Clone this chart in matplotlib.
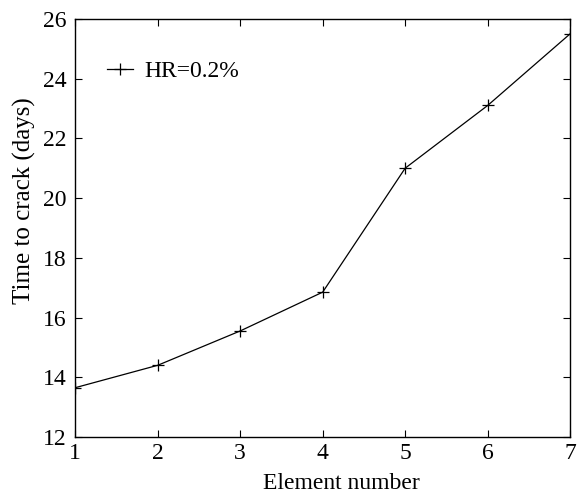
import matplotlib.pyplot as plt
import numpy as np

plt.rcParams['font.family'] = ['Liberation Serif', 'DejaVu Serif']
plt.rcParams['mathtext.fontset'] = 'stix'

# data
element = [1, 2, 3, 4, 5, 6, 7]
time_to_crack = [13.65, 14.4, 15.55, 16.85, 21.0, 23.1, 25.5]

fig = plt.figure(figsize=(5.83, 4.96), dpi=100)
ax = fig.add_axes([0.129, 0.119, 0.849, 0.843])

ax.plot(element, time_to_crack, 'k-', marker='+', markersize=9,
        linewidth=0.9, markeredgewidth=0.9, label='HR=0.2%')

ax.set_xlim(1, 7)
ax.set_ylim(12, 26)
ax.set_xticks(np.arange(1, 8))
ax.set_yticks(np.arange(12, 27, 2))
ax.tick_params(direction='in', top=True, right=True, labelsize=17,
               length=5, width=0.8)
ax.tick_params(axis='y', pad=6)
ax.tick_params(axis='x', pad=4)
for s in ax.spines.values():
    s.set_linewidth(1.0)

ax.set_xlabel('Element number', fontsize=17, labelpad=4)
ax.xaxis.set_label_coords(0.537, -0.085)
ax.set_ylabel('Time to crack (days)', fontsize=18, labelpad=5)
ax.yaxis.label.set_y(0.565)

ax.legend(loc='center left', frameon=False, fontsize=17,
          bbox_to_anchor=(0.065, 0.875), borderaxespad=0, borderpad=0,
          handlelength=1.1, handletextpad=0.45)

fig.savefig('out.png', dpi=100)
